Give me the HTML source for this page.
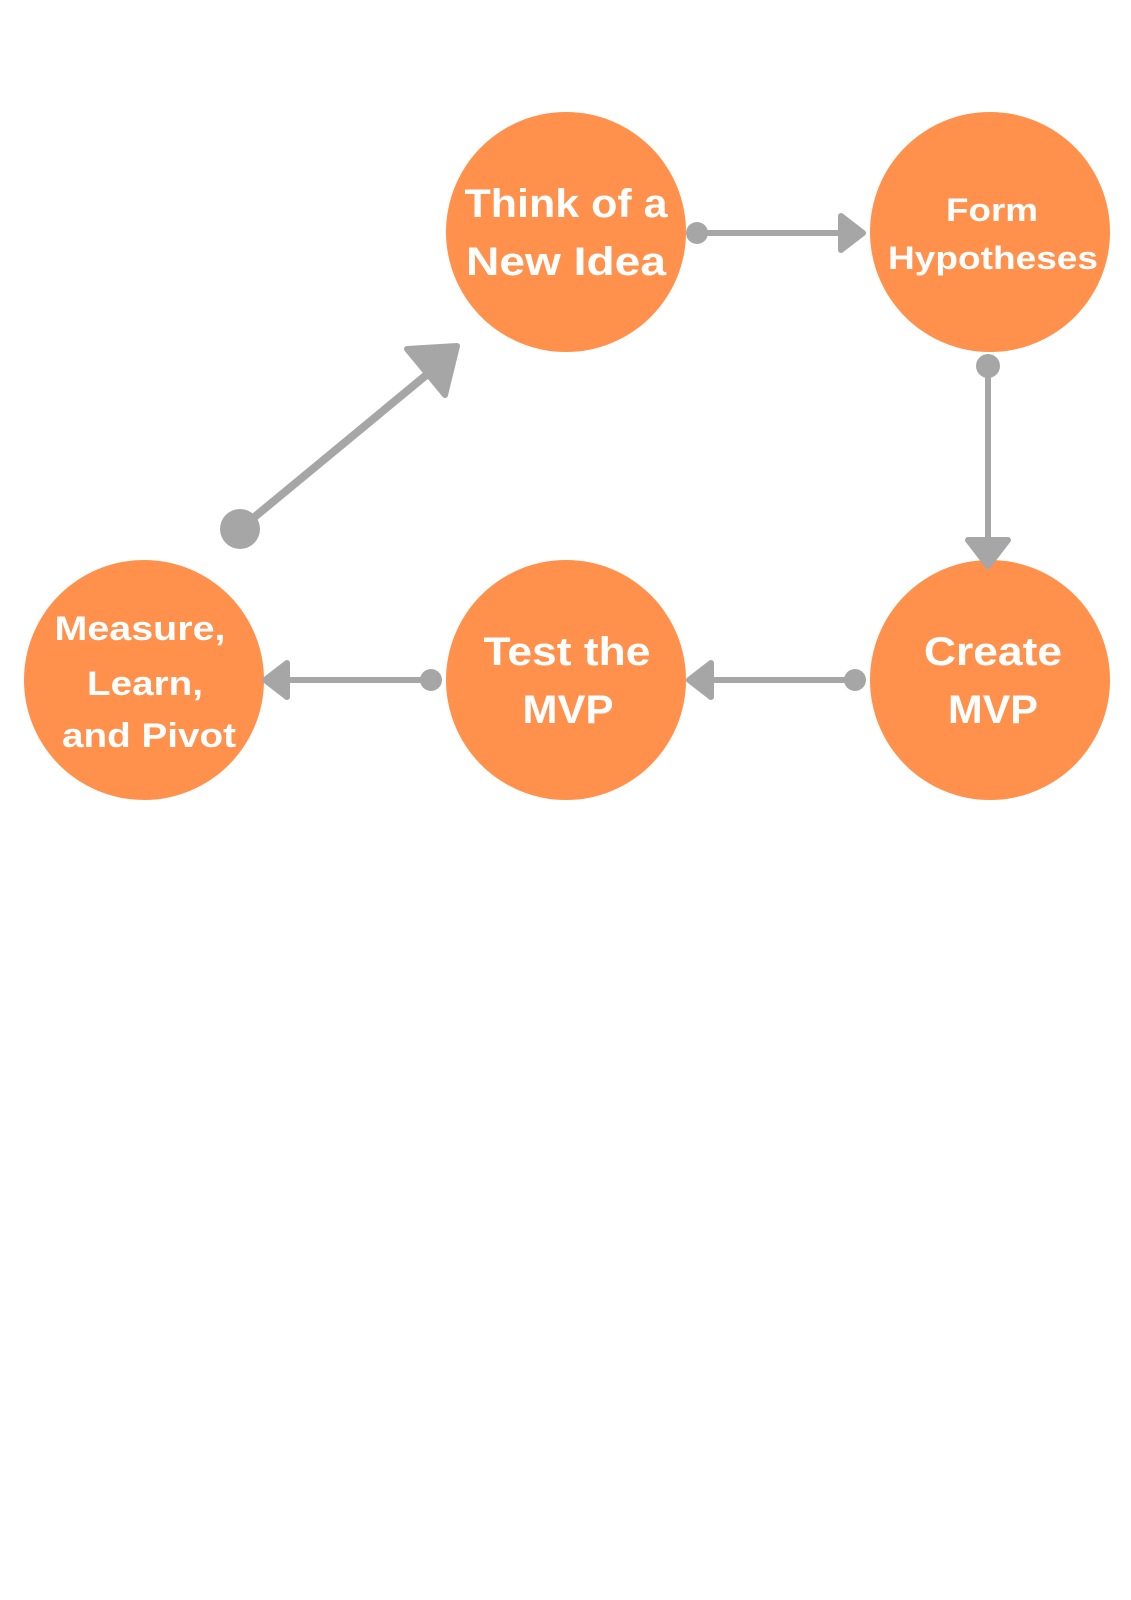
<!DOCTYPE html>
<html><head><meta charset="utf-8"><style>html,body{margin:0;padding:0;background:#fff}svg{display:block}</style></head>
<body>
<svg width="1131" height="1600" viewBox="0 0 1131 1600" xmlns="http://www.w3.org/2000/svg">
<g fill="#ff914d">
<circle cx="566" cy="232" r="120"/>
<circle cx="990" cy="232" r="120"/>
<circle cx="144" cy="680" r="120"/>
<circle cx="566" cy="680" r="120"/>
<circle cx="990" cy="680" r="120"/>
</g>
<g stroke="#a6a6a6" stroke-width="6" fill="#a6a6a6" stroke-linejoin="round">
<line x1="697" y1="233" x2="845" y2="233"/>
<circle cx="697" cy="233" r="11" stroke="none"/>
<polygon points="841,216 863,233 841,250"/>
<line x1="988" y1="366" x2="988" y2="545"/>
<circle cx="988" cy="366" r="12" stroke="none"/>
<polygon points="968,540 1008,540 988,566"/>
<line x1="855" y1="680" x2="705" y2="680"/>
<circle cx="855" cy="680" r="11" stroke="none"/>
<polygon points="711,663 689,680 711,697"/>
<line x1="431" y1="680" x2="280" y2="680"/>
<circle cx="431" cy="680" r="11" stroke="none"/>
<polygon points="287,663 265,680 287,697"/>
<line x1="240" y1="529" x2="430" y2="372" stroke-width="8"/>
<circle cx="240" cy="529" r="20" stroke="none"/>
<polygon points="407,349 457,346 445,395"/>
</g>
<g fill="#fff" font-family="'Liberation Sans', sans-serif" font-weight="bold" text-anchor="middle">
<text x="566" y="217" font-size="40" textLength="203" lengthAdjust="spacingAndGlyphs">Think of a</text>
<text x="566" y="275" font-size="40" textLength="200" lengthAdjust="spacingAndGlyphs">New Idea</text>
<text x="992" y="221" font-size="32" textLength="92" lengthAdjust="spacingAndGlyphs">Form</text>
<text x="993" y="269" font-size="32" textLength="210" lengthAdjust="spacingAndGlyphs">Hypotheses</text>
<text x="567" y="665" font-size="40" textLength="167" lengthAdjust="spacingAndGlyphs">Test the</text>
<text x="568" y="723" font-size="40" textLength="91" lengthAdjust="spacingAndGlyphs">MVP</text>
<text x="993" y="665" font-size="40" textLength="138" lengthAdjust="spacingAndGlyphs">Create</text>
<text x="993" y="723" font-size="40" textLength="90" lengthAdjust="spacingAndGlyphs">MVP</text>
<text x="140" y="640" font-size="34" textLength="171" lengthAdjust="spacingAndGlyphs">Measure,</text>
<text x="145" y="695" font-size="34" textLength="116" lengthAdjust="spacingAndGlyphs">Learn,</text>
<text x="149" y="747" font-size="34" textLength="174" lengthAdjust="spacingAndGlyphs">and Pivot</text>
</g>
</svg>
</body></html>
